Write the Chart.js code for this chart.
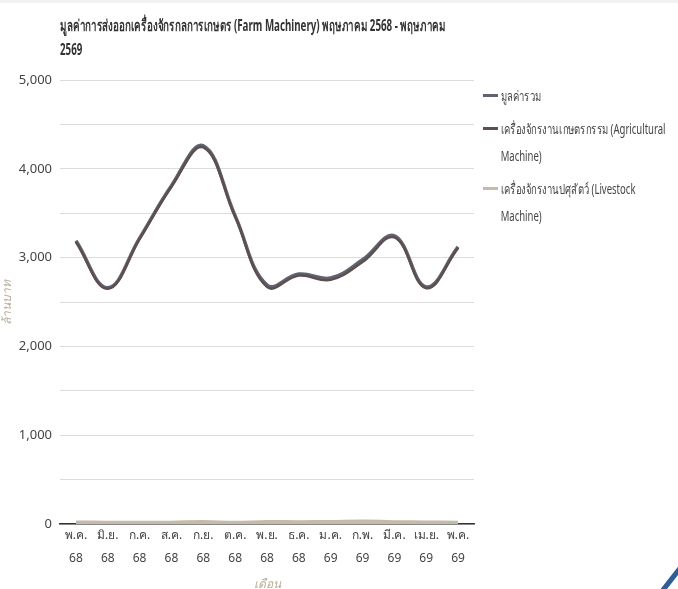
<!DOCTYPE html>
<html>
<head>
<meta charset="utf-8">
<script src="https://cdn.jsdelivr.net/npm/chart.js@4"></script>
<style>
  html, body { margin: 0; padding: 0; background: #fff; }
  #wrap { position: relative; width: 678px; height: 589px; overflow: hidden; border-top: 3px solid #f2f2f2; box-sizing: border-box; }
  #chart { position: absolute; left: 0; top: 0; }
  #title { position: absolute; left: 60px; top: 10px; white-space: nowrap; font: bold 16px "Noto Sans", sans-serif; color: #333; line-height: 24px; transform: scaleX(0.61); transform-origin: left top; }
  #legend { position: absolute; left: 483px; top: 79px; white-space: nowrap; font: 14px "Noto Sans", sans-serif; color: #444; transform: scaleX(0.68); transform-origin: left top; }
  .item { position: relative; padding-left: 26px; line-height: 27px; margin-bottom: 6px; }
  .item span.mk { position: absolute; left: 0; top: 12px; width: 22px; height: 3px; }
  #corner { position: absolute; left: 666px; top: 560px; width: 5px; height: 40px; background: #2f5d97; transform: rotate(38deg); }
</style>
</head>
<body>
<div id="wrap">
  <canvas id="chart" width="678" height="589"></canvas>
  <div id="title">มูลค่าการส่งออกเครื่องจักรกลการเกษตร (Farm Machinery) พฤษภาคม 2568 - พฤษภาคม<br>2569</div>
  <div id="legend"></div>
  <div id="corner"></div>
</div>
<script>
const months = [["พ.ค.", "68"], ["มิ.ย.", "68"], ["ก.ค.", "68"], ["ส.ค.", "68"], ["ก.ย.", "68"], ["ต.ค.", "68"], ["พ.ย.", "68"], ["ธ.ค.", "68"], ["ม.ค.", "69"], ["ก.พ.", "69"], ["มี.ค.", "69"], ["เม.ย.", "69"], ["พ.ค.", "69"]];
// ล้านบาท
const totalValue = [3190, 2660, 3220, 3810, 4260, 3470, 2690, 2815, 2770, 2975, 3245, 2670, 3120];
const livestock = [15, 12, 10, 12, 20, 10, 20, 18, 20, 25, 18, 15, 12];
const agricultural = [3175, 2648, 3210, 3798, 4240, 3460, 2670, 2797, 2750, 2950, 3227, 2655, 3108];

const seriesNames = ["มูลค่ารวม", "เครื่องจักรงานเกษตรกรรม (Agricultural Machine)", "เครื่องจักรงานปศุสัตว์ (Livestock Machine)"];
const legendText = ["มูลค่ารวม", "เครื่องจักรงานเกษตรกรรม (Agricultural<br>Machine)", "เครื่องจักรงานปศุสัตว์ (Livestock<br>Machine)"];
const seriesColors = ["#5f6370", "#5e4f4f", "#c4bba9"];

const FONT = "'Noto Sans', sans-serif";

document.getElementById("legend").innerHTML = legendText.map((n, i) =>
  `<div class="item"><span class="mk" style="background:${seriesColors[i]}"></span>${n}</div>`
).join("");

const mk = (label, data, color, w) => ({
  label, data, borderColor: color, backgroundColor: color,
  borderWidth: w, tension: 0.4, pointRadius: 0, fill: false,
});

new Chart(document.getElementById("chart"), {
  type: "line",
  data: {
    labels: months,
    // first dataset is painted on top
    datasets: [
      mk(seriesNames[2], livestock, seriesColors[2], 4.5),
      mk(seriesNames[1], agricultural, seriesColors[1], 2.5),
      mk(seriesNames[0], totalValue, seriesColors[0], 3.5),
    ],
  },
  options: {
    responsive: false,
    animation: false,
    layout: { padding: { left: 0, top: 77, right: 204, bottom: 0 } },
    plugins: { legend: { display: false }, tooltip: { enabled: false } },
    scales: {
      x: {
        offset: true,
        grid: { display: false, drawTicks: false },
        border: { display: true, color: "#333", width: 1.5 },
        ticks: { color: "#444", font: { family: FONT, size: 12, lineHeight: 1.9 }, maxRotation: 0, autoSkip: false, padding: 0 },
        title: { display: true, text: "เดือน", color: "#b5ad95", font: { family: FONT, size: 12, style: "italic" }, padding: 0 },
        afterFit: (s) => { s.height = 68; },
      },
      y: {
        min: 0, max: 5000,
        grid: { color: "#dcdcdc", drawTicks: false },
        border: { display: false },
        ticks: {
          stepSize: 500, autoSkip: false, padding: 8, color: "#444",
          font: { family: FONT, size: 13 },
          callback: (v) => (v % 1000 === 0 ? v.toLocaleString("en-US") : ""),
        },
        title: { display: true, text: "ล้านบาท", color: "#b5ad95", font: { family: FONT, size: 12, style: "italic" }, padding: { top: 0, bottom: 4 } },
        afterFit: (s) => { s.width = 60; },
      },
    },
  },
});
</script>
</body>
</html>
